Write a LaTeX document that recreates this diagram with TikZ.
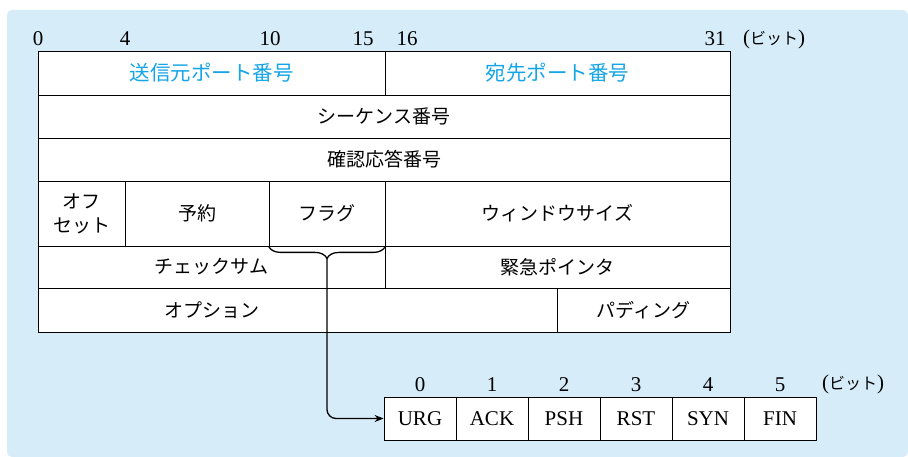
\documentclass[tikz,border=0pt]{standalone}
\usepackage{fontspec}
\setmainfont{Liberation Serif}
\newfontfamily\jpfont{Noto Sans CJK JP}
\usetikzlibrary{decorations.pathreplacing,arrows.meta}

\definecolor{bgblue}{RGB}{214,236,249}
\definecolor{portcyan}{RGB}{20,165,230}

\newcommand{\bitunit}{{(}{\jpfont\fontsize{16}{19}\selectfont ビット}{)}}

\begin{document}
\begin{tikzpicture}[x=1pt,y=-1pt]

      \useasboundingbox (0,0) rectangle (908,457);
      \fill[bgblue, rounded corners=5pt] (7,10) rectangle (908,457);

      % bit positions
      \begin{scope}[every node/.style={font=\fontsize{21}{24}\selectfont, inner sep=0pt}]
        \node (b0)  at (38,39)  {0};
        \node (b4)  at (125,39) {4};
        \node (b10) at (270,39) {10};
        \node (b15) at (363,39) {15};
        \node (b16) at (407,39) {16};
        \node (b31) at (715,39) {31};
        \node (bu)  at (774,39) {\bitunit};
      \end{scope}

      % header fields
      \begin{scope}[every node/.style={draw, line width=0.8pt, fill=white, inner sep=0pt,
                                       align=center, font=\jpfont\fontsize{19}{24}\selectfont}]
        \node[minimum width=347pt, minimum height=44pt, text=portcyan,
              font=\jpfont\fontsize{20.5}{24}\selectfont] (src) at (211.5,73) {送信元ポート番号};
        \node[minimum width=345pt, minimum height=44pt, text=portcyan,
              font=\jpfont\fontsize{20.5}{24}\selectfont] (dst) at (557.5,73) {宛先ポート番号};
        \node[minimum width=692pt, minimum height=43pt] (seq) at (384,116.5) {シーケンス番号};
        \node[minimum width=692pt, minimum height=43pt] (ack) at (384,159.5) {確認応答番号};
        \node[minimum width=87pt,  minimum height=65pt] (off) at (81.5,213.5) {オフ\\セット};
        \node[minimum width=144pt, minimum height=65pt] (rsv) at (197,213.5)  {予約};
        \node[minimum width=116pt, minimum height=65pt] (flg) at (327,213.5)  {フラグ};
        \node[minimum width=345pt, minimum height=65pt] (win) at (557.5,213.5) {ウィンドウサイズ};
        \node[minimum width=347pt, minimum height=42pt] (chk) at (211.5,267) {チェックサム};
        \node[minimum width=345pt, minimum height=42pt] (urp) at (557.5,267) {緊急ポインタ};
        \node[minimum width=519pt, minimum height=44pt] (opt) at (297.5,310) {};
        \node[minimum width=173pt, minimum height=44pt] (pad) at (643.5,310) {パディング};
      \end{scope}
      \node[font=\jpfont\fontsize{19}{24}\selectfont] (optlabel) at (211.5,310) {オプション};

      % control flags
      \foreach \flag [count=\i from 0] in {URG,ACK,PSH,RST,SYN,FIN} {
        \node[draw, line width=0.8pt, fill=white, inner sep=0pt,
              minimum width=72pt, minimum height=43pt,
              font=\fontsize{21}{24}\selectfont] (f\i) at (420+72*\i,418.5) {\flag};
        \node[font=\fontsize{21}{24}\selectfont, inner sep=0pt] (n\i) at (420+72*\i,385) {\i};
      }
      \node[inner sep=0pt, font=\fontsize{21}{24}\selectfont] (fu) at (853,384) {\bitunit};

      \draw[line width=1.3pt, decorate,
            decoration={brace, mirror, amplitude=12pt}] (flg.south west) -- (flg.south east);
      \coordinate (tip) at (327,258);
      \draw[line width=1.3pt, rounded corners=9pt, -{Stealth[length=9pt,width=7pt]}]
            (tip) |- (f0.west);

    \end{tikzpicture}
\end{document}
